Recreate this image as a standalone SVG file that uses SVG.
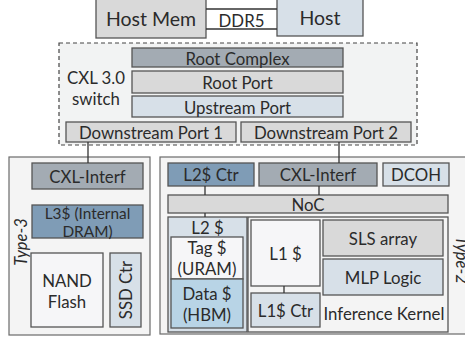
<svg xmlns="http://www.w3.org/2000/svg" width="465" height="341" viewBox="0 0 465 341">
  <style>
    text { font-family: Lato, "Open Sans", "Liberation Sans", sans-serif; font-size: 16.8px; fill: #2b2b2b; text-anchor: middle; dominant-baseline: central; }
    .big { font-size: 19.5px; }
    .tight { font-size: 15.4px; }
    .it { font-style: italic; font-size: 16.5px; }
    .box { stroke: #555; stroke-width: 1.3; }
    .gray { fill: #d9d9d9; }
    .dark { fill: #a3abb3; }
    .blue { fill: #7f9cb6; }
    .pale { fill: #d7e0e8; }
    .white { fill: #f6f6f8; }
    .data { fill: #b8d4e6; }
    .frame { fill: #f4f4f4; stroke: #6a6a6a; stroke-width: 1.2; }
    .line { stroke: #333; stroke-width: 1.3; fill: none; }
  </style>

  <!-- host side -->
  <g id="host-mem">
    <rect class="box gray" x="96" y="-2" width="110" height="40"/>
    <text class="big" x="151" y="18">Host Mem</text>
  </g>
  <g id="host">
    <rect class="box pale" x="277" y="-2" width="86" height="38"/>
    <text class="big" x="320" y="17">Host</text>
  </g>

  <!-- CXL switch -->
  <g id="switch">
    <rect x="59" y="43" width="358" height="102" fill="#f2f3f3" stroke="#444" stroke-width="1.2" stroke-dasharray="4,3"/>
    <text x="96" y="77">CXL 3.0</text>
    <text x="96" y="98">switch</text>
  </g>
  <g id="root-complex">
    <rect class="box dark" x="132" y="48" width="211" height="19"/>
    <text x="237.5" y="58">Root Complex</text>
  </g>
  <g id="root-port">
    <rect class="box gray" x="132" y="71" width="211" height="22"/>
    <text x="237.5" y="82">Root Port</text>
  </g>
  <g id="upstream-port">
    <rect class="box pale" x="132" y="96" width="211" height="21"/>
    <text x="237.5" y="107">Upstream Port</text>
  </g>
  <g id="downstream-port-1">
    <rect class="box gray" x="66" y="122" width="170" height="20"/>
    <text x="151" y="132">Downstream Port 1</text>
  </g>
  <g id="downstream-port-2">
    <rect class="box gray" x="241" y="122" width="170" height="20"/>
    <text x="326" y="132">Downstream Port 2</text>
  </g>

  <!-- Type-3 device -->
  <g id="type3">
    <rect class="frame" x="9" y="157" width="141" height="178"/>
    <text class="it" transform="translate(21 242) rotate(-90)">Type-3</text>
  </g>
  <g id="t3-cxl-interf">
    <rect class="box dark" x="32" y="163" width="111" height="26"/>
    <text x="87.5" y="176">CXL-Interf</text>
  </g>
  <g id="t3-l3">
    <rect class="box blue" x="32" y="205" width="111" height="33"/>
    <text class="tight" x="87.5" y="212.5">L3$ (Internal</text>
    <text class="tight" x="87.5" y="230.5">DRAM)</text>
  </g>
  <g id="nand-flash">
    <rect class="box white" x="31" y="253" width="72" height="74"/>
    <text x="67" y="280">NAND</text>
    <text x="67" y="301">Flash</text>
  </g>
  <g id="ssd-ctr">
    <rect class="box pale" x="110" y="253" width="31" height="74"/>
    <text transform="translate(125.5 290) rotate(-90)">SSD Ctr</text>
  </g>

  <!-- Type-2 device -->
  <g id="type2">
    <rect class="frame" x="160" y="157" width="320" height="177"/>
    <text class="it" transform="translate(462 260) rotate(90)">Type-2</text>
  </g>
  <g id="l2-ctr">
    <rect class="box blue" x="168" y="163" width="86" height="23"/>
    <text x="211" y="174.5">L2$ Ctr</text>
  </g>
  <g id="t2-cxl-interf">
    <rect class="box dark" x="259" y="163" width="118" height="23"/>
    <text x="318" y="174.5">CXL-Interf</text>
  </g>
  <g id="dcoh">
    <rect class="box pale" x="383" y="163" width="66" height="23"/>
    <text x="416" y="174.5">DCOH</text>
  </g>
  <g id="noc">
    <rect class="box gray" x="168" y="195" width="280" height="18"/>
    <text x="308" y="204">NoC</text>
  </g>
  <g id="l2-cache">
    <rect class="box pale" x="168" y="217" width="79" height="115"/>
    <text x="207.5" y="227">L2 $</text>
  </g>
  <g id="tag-cache">
    <rect class="box white" x="171" y="237" width="72" height="42"/>
    <text x="207" y="247.5">Tag $</text>
    <text x="207" y="268.5">(URAM)</text>
  </g>
  <g id="data-cache">
    <rect class="box data" x="171" y="279" width="72" height="49"/>
    <text x="207" y="293">Data $</text>
    <text x="207" y="314">(HBM)</text>
  </g>
  <g id="inference-kernel">
    <rect class="box" x="248" y="217" width="200" height="115" fill="#f4f4f4"/>
    <text x="384" y="313">Inference Kernel</text>
  </g>
  <g id="l1-cache">
    <rect class="box white" x="251" y="220" width="69" height="66"/>
    <text x="285.5" y="253">L1 $</text>
  </g>
  <g id="l1-ctr">
    <rect class="box pale" x="251" y="293" width="69" height="34"/>
    <text x="285.5" y="310">L1$ Ctr</text>
  </g>
  <g id="sls-array">
    <rect class="box gray" x="323" y="220" width="120" height="36"/>
    <text x="383" y="238">SLS array</text>
  </g>
  <g id="mlp-logic">
    <rect class="box pale" x="323" y="259" width="120" height="36"/>
    <text x="383" y="277">MLP Logic</text>
  </g>

  <!-- connectors -->
  <g id="connectors">
    <line class="line" x1="206" y1="9" x2="277" y2="9"/>
    <line class="line" x1="206" y1="29" x2="277" y2="29"/>
    <text x="241.5" y="20">DDR5</text>
    <line class="line" x1="88" y1="142" x2="88" y2="163"/>
    <line class="line" x1="339" y1="142" x2="339" y2="163"/>
    <line class="line" x1="205" y1="186" x2="205" y2="195"/>
    <line class="line" x1="319" y1="186" x2="319" y2="195"/>
    <line class="line" x1="205" y1="213" x2="205" y2="217"/>
    <line class="line" x1="284" y1="286" x2="284" y2="293"/>
  </g>
</svg>
